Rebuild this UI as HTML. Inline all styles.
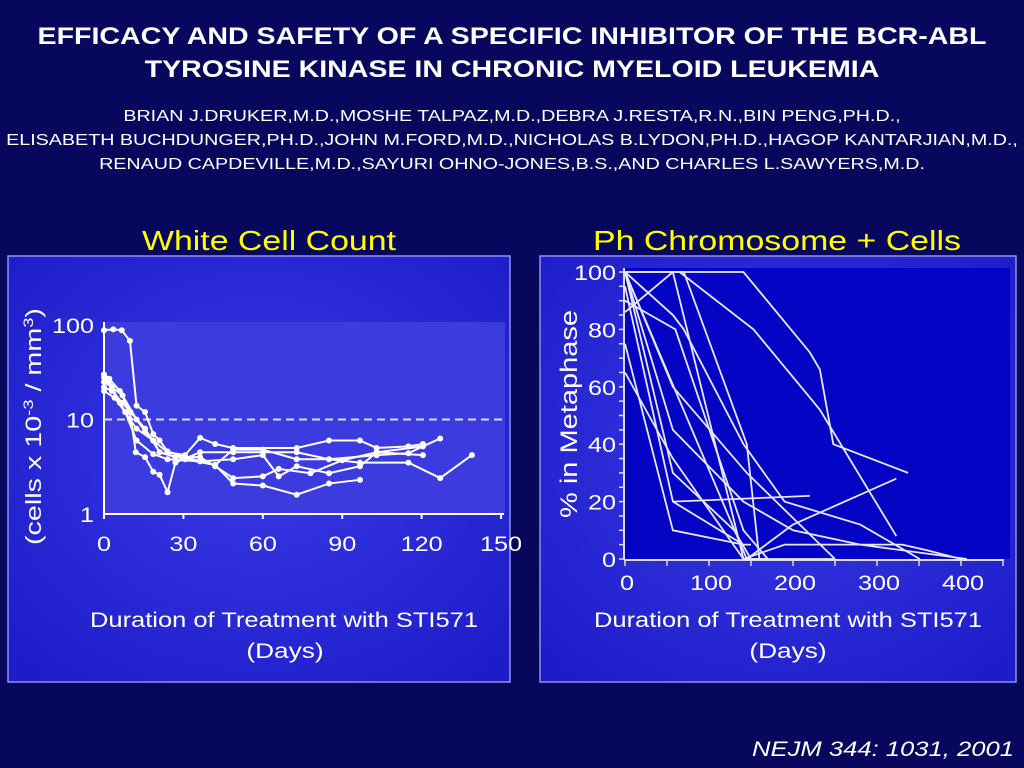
<!DOCTYPE html>
<html><head><meta charset="utf-8"><style>
body{margin:0;width:1024px;height:768px;overflow:hidden;background:#07075e;font-family:"Liberation Sans",sans-serif;color:#fff;position:relative}
.t{position:absolute;left:0;width:1024px;text-align:center;white-space:nowrap}
</style></head><body>
<div class="t" style="top:20px;font-size:24px;font-weight:bold;line-height:33px;transform:scaleX(1.19)">EFFICACY AND SAFETY OF A SPECIFIC INHIBITOR OF THE BCR-ABL<br>TYROSINE KINASE IN CHRONIC MYELOID LEUKEMIA</div>
<div class="t" style="top:105px;font-size:15.5px;line-height:24px;transform:scaleX(1.27)">BRIAN J.DRUKER,M.D.,MOSHE TALPAZ,M.D.,DEBRA J.RESTA,R.N.,BIN PENG,PH.D.,<br>ELISABETH BUCHDUNGER,PH.D.,JOHN M.FORD,M.D.,NICHOLAS B.LYDON,PH.D.,HAGOP KANTARJIAN,M.D.,<br>RENAUD CAPDEVILLE,M.D.,SAYURI OHNO-JONES,B.S.,AND CHARLES L.SAWYERS,M.D.</div>
<svg width="1024" height="768" style="position:absolute;left:0;top:0" id="svg" font-family="Liberation Sans, sans-serif">
<defs><radialGradient id="lg" cx="50%" cy="45%" r="70%"><stop offset="0" stop-color="#3a3ae6"/><stop offset="1" stop-color="#1c1cc8"/></radialGradient></defs>
<text x="142" y="250" fill="#ffff00" font-size="28" textLength="254" lengthAdjust="spacingAndGlyphs">White Cell Count</text>
<text x="593" y="250" fill="#ffff00" font-size="28" textLength="368" lengthAdjust="spacingAndGlyphs">Ph Chromosome + Cells</text>
<rect x="8" y="256" width="502" height="426" fill="url(#lg)" stroke="#9090f0" stroke-width="1.5"/>
<rect x="540" y="256" width="476" height="426" fill="url(#lg)" stroke="#9090f0" stroke-width="1.5"/>
<rect x="103" y="322" width="402" height="192" fill="#3b3be0"/>
<rect x="625" y="268" width="385" height="291" fill="#0404c4"/>
<g id="L"></g><g id="R"></g>
<text transform="translate(41,545) rotate(-90)" font-size="22" fill="#fff" textLength="237" lengthAdjust="spacingAndGlyphs">(cells x 10<tspan font-size="14" dy="-8">-3</tspan><tspan dy="8"> / mm</tspan><tspan font-size="14" dy="-8">3</tspan><tspan dy="8">)</tspan></text>
<text transform="translate(577,518) rotate(-90)" font-size="24" fill="#fff" textLength="208" lengthAdjust="spacingAndGlyphs">% in Metaphase</text>
<text x="90" y="627" font-size="21" fill="#fff" textLength="388" lengthAdjust="spacingAndGlyphs">Duration of Treatment with STI571</text>
<text x="285" y="658" font-size="21" text-anchor="middle" fill="#fff" transform="translate(285,0) scale(1.25,1) translate(-285,0)">(Days)</text>
<text x="594" y="627" font-size="21" fill="#fff" textLength="388" lengthAdjust="spacingAndGlyphs">Duration of Treatment with STI571</text>
<text x="788" y="658" font-size="21" text-anchor="middle" fill="#fff" transform="translate(788,0) scale(1.25,1) translate(-788,0)">(Days)</text>
<text x="752" y="756" font-size="21" font-style="italic" fill="#fff" textLength="262" lengthAdjust="spacingAndGlyphs">NEJM 344: 1031, 2001</text>
</svg>
<script>
const NS='http://www.w3.org/2000/svg';
function mk(t,a,p){const e=document.createElementNS(NS,t);for(const k in a)e.setAttribute(k,a[k]);p.appendChild(e);return e;}
function lbl(x,y,txt,anchor,p){const e=mk('text',{x:0,y:0,'font-size':21,fill:'#fff','text-anchor':anchor,transform:'translate('+x+','+y+') scale(1.2,1)'},p);e.textContent=txt;return e;}
// Left chart data
const wbcXTicks=[0,30,60,90,120,150];
const wbcYTicks=[1,10,100];
const wbcSeries=[
 [[0,88],[3.5,90],[6.7,88],[9.8,68],[12.3,14],[15.5,12],[18.6,7],[21,6],[24,4.6],[30.6,4],[42,3.3],[48.8,2.1],[60,2.0],[72.8,1.6],[85,2.1],[96.7,2.3]],
 [[0,30],[2,27],[6,20],[9.8,12],[12,4.5],[15.5,4],[18.6,2.8],[21,2.6],[24,1.7],[27,3.5],[36.3,4.5],[48.8,4.5],[72.8,4.5],[85,3.8],[103,4.2],[115,4.4],[127,6.3]],
 [[0,25],[3,22],[7,18],[12.3,10],[15.5,7.5],[18.6,6],[24,4.5],[30.6,4.2],[36.3,6.4],[42,5.5],[48.8,5],[72.8,5],[85,6],[96.7,6],[103,5],[115,5.2],[120.5,5.5]],
 [[0,22],[3,20],[7,15],[10,12],[15.5,8],[21,4.5],[30.6,3.8],[42,3.3],[48.8,4.8],[60,4.8],[72.8,3.8],[85,3.8],[96.7,3.5],[115,3.5],[127,2.4],[139,4.2]],
 [[0,20],[4,17],[8,12],[12.3,6],[18.6,4.3],[24,3.8],[36.3,3.6],[48.8,3.8],[60,4.2],[66,2.5],[72.8,3.2],[85,2.7],[96.7,3.2],[103,4.5],[120.5,5.2]],
 [[0,28],[2,25],[6,15],[9.8,10],[12.3,8],[18.6,6],[21,4.5],[27,4],[36.3,4],[42,3.2],[48.8,2.4],[60,2.5],[66,3.0],[78,2.7],[90,3.7],[103,4.5],[120.5,4.2]],
];
const xL=d=>104+d*2.647, yL=v=>514-Math.log10(v)*94.5;
const L=document.getElementById('L');
let ax=mk('line',{x1:104,y1:514,x2:504,y2:514,stroke:'#fff','stroke-width':2},L);

ax=mk('line',{x1:104,y1:322,x2:104,y2:514,stroke:'#fff','stroke-width':2},L);

let ref=mk('line',{x1:104,y1:yL(10),x2:505,y2:yL(10),stroke:'#ddd','stroke-width':2,'stroke-dasharray':'8,5'},L);

wbcXTicks.forEach(t=>{mk('line',{x1:xL(t),y1:514,x2:xL(t),y2:519,stroke:'#fff','stroke-width':2},L);
 const e=lbl(xL(t),551,t,'middle',L);
 });
wbcYTicks.forEach(t=>{const e=lbl(94,yL(t)+8,t,'end',L);
 });
wbcSeries.forEach((s,i)=>{const p=mk('polyline',{points:s.map(q=>xL(q[0])+','+yL(q[1])).join(' '),fill:'none',stroke:'#fff','stroke-width':2},L);
 
 s.forEach(q=>{const c=mk('circle',{cx:xL(q[0]),cy:yL(q[1]),r:3,fill:'#fff'},L);
 });});
// Right chart data
const phXTicks=[0,100,200,300,400];
const phYTicks=[0,20,40,60,80,100];
const phSeries=[
 [[0,100],[141,100],[220,72],[232,66],[248,40],[337,30]],
 [[0,86],[57,100],[65,100],[153,80],[218,57],[232,52],[323,8]],
 [[0,100],[57,85],[70,80],[141,40],[190,20],[280,12],[351,0]],
 [[0,100],[57,100],[141,0]],
 [[57,100],[70,100],[145,40],[160,0]],
 [[0,100],[145,0],[170,0]],
 [[0,95],[57,20],[141,5]],
 [[0,75],[57,10],[141,5],[150,5]],
 [[0,65],[57,35],[141,0]],
 [[0,100],[57,30],[130,10],[150,0]],
 [[0,100],[57,45],[141,20],[200,10],[280,5],[407,0]],
 [[0,100],[57,60],[145,30],[250,0]],
 [[57,20],[140,21],[220,22]],
 [[145,0],[200,12],[323,28]],
 [[141,0],[190,5],[330,5],[360,3],[400,0],[407,0]],
 [[0,90],[60,80],[141,10],[170,0]],
 [[141,0],[248,0]],
];
const xR=d=>625+d*0.84, yR=v=>559-v*2.87;
const R=document.getElementById('R');
ax=mk('line',{x1:624,y1:560,x2:1004,y2:560,stroke:'#ddd','stroke-width':2},R);

ax=mk('line',{x1:624,y1:268,x2:624,y2:560,stroke:'#ddd','stroke-width':2},R);

for(let v=0;v<=100;v+=5)mk('line',{x1:619,y1:yR(v),x2:624,y2:yR(v),stroke:'#ddd','stroke-width':1.5},R);
for(let d=0;d<=450;d+=50)mk('line',{x1:xR(d),y1:560,x2:xR(d),y2:566,stroke:'#ddd','stroke-width':1.5},R);
phXTicks.forEach(t=>{const e=lbl(xR(t)+2,590,t,'middle',R);
 });
phYTicks.forEach(t=>{const e=lbl(616,yR(t)+8,t,'end',R);
 });
phSeries.forEach(s=>{const p=mk('polyline',{points:s.map(q=>xR(q[0])+','+yR(q[1])).join(' '),fill:'none',stroke:'#e8e8ff','stroke-width':1.8},R);
 });
</script>
</body></html>
